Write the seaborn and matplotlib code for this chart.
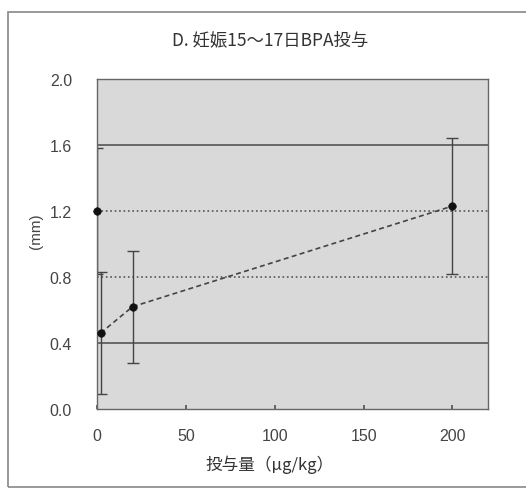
import matplotlib
matplotlib.use("Agg")
import matplotlib.pyplot as plt
import seaborn as sns
import pandas as pd
from matplotlib.patches import Rectangle

# Data
doses = [0, 2, 20, 200]
means = [1.20, 0.46, 0.62, 1.23]
errs = [0.38, 0.37, 0.34, 0.41]
yticks = [0.0, 0.4, 0.8, 1.2, 1.6, 2.0]
xticks = [0, 50, 100, 150, 200]
title = "D. 妊娠15～17日BPA投与"
xlabel = "投与量（μg/kg）"
ylabel = "(mm)"

sns.set_theme(style="white")
plt.rcParams['font.family'] = ['Liberation Sans', 'Noto Sans CJK JP', 'DejaVu Sans']

df = pd.DataFrame({"dose": doses, "mean": means, "err": errs})

fig = plt.figure(figsize=(5.26, 4.89), dpi=100)
ax = fig.add_axes([97/526, 1-410/489, (488-97)/526, (410-80)/489])
ax.set_facecolor("#d9d9d9")

# horizontal reference lines
for yv, ls in [(0.4, '-'), (0.8, ':'), (1.2, ':'), (1.6, '-')]:
    ax.axhline(yv, color="#555555", lw=1.2, ls=ls, zorder=1)

# error bars
ax.errorbar(df["dose"], df["mean"], yerr=df["err"], fmt='none', ecolor="#444444",
            elinewidth=1.0, capsize=4, capthick=1.0, zorder=2)

# connecting line (treated groups)
sns.lineplot(data=df.iloc[1:], x="dose", y="mean", ax=ax, color="#444444",
             lw=1.2, linestyle=(0, (3, 2)), zorder=3)
sns.scatterplot(data=df, x="dose", y="mean", ax=ax, color="#111111", s=30,
                edgecolor="#111111", zorder=4, clip_on=False)

ax.set_xlim(0, 220)
ax.set_ylim(0, 2.0)
ax.set_xticks(xticks)
ax.set_yticks(yticks)
ax.set_yticklabels([f"{v:.1f}" for v in yticks])
ax.tick_params(axis='x', direction='in', length=3, color="#555555", pad=14,
               labelsize=11.5, labelcolor="#444444", bottom=True)
ax.tick_params(axis='y', length=0, pad=18, labelsize=11.5, labelcolor="#444444")
for s in ax.spines.values():
    s.set_color("#666666")
    s.set_linewidth(1.0)

ax.set_xlabel("")
ax.set_ylabel("")
fig.text(270/526, 1-465/489, xlabel, ha='center', va='center', fontsize=12,
         color="#333333", family=['Noto Sans CJK JP', 'DejaVu Sans'])
fig.text(36/526, 1-231/489, ylabel, ha='center', va='center', fontsize=11,
         color="#444444", rotation=90)
fig.text(270/526, 1-40/489, title, ha='center', va='center', fontsize=12.5,
         color="#333333", family=['Noto Sans CJK JP', 'DejaVu Sans'])

# outer frame
fig.add_artist(Rectangle((8/526, 1-488/489), 530/526, (488-13)/489,
                         transform=fig.transFigure, fill=False,
                         edgecolor="#888888", lw=1.2))

fig.savefig("out.png", dpi=100)
